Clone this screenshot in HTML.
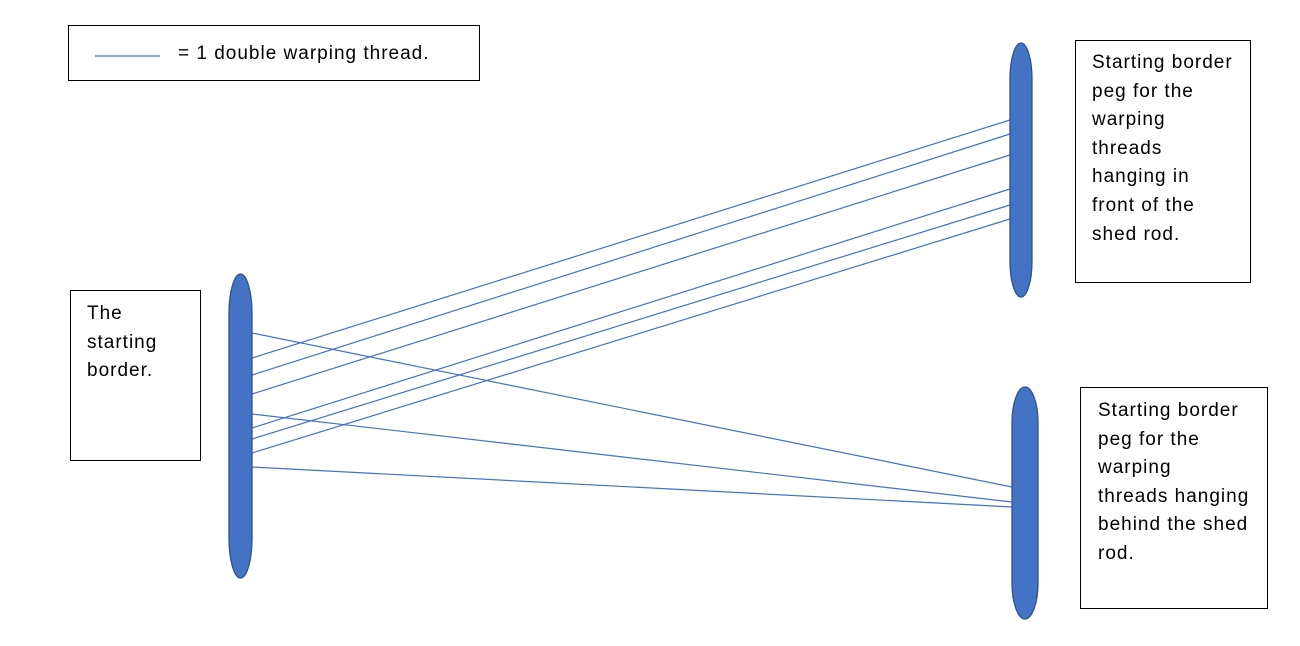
<!DOCTYPE html>
<html><head><style>
body{margin:0;background:#fff;width:1300px;height:646px;overflow:hidden;font-family:"Liberation Sans",sans-serif;}
.b{position:absolute;border:1.3px solid #000;box-sizing:border-box;font-size:19px;letter-spacing:1px;line-height:28.6px;color:#000;white-space:nowrap;}
</style></head><body>
<svg width="1300" height="646" style="position:absolute;left:0;top:0">
<g stroke="#4472c4" stroke-width="1.2" fill="none">
<line x1="95" y1="56" x2="160" y2="56"/>
<line x1="252" y1="333" x2="1012" y2="487"/>
<line x1="252" y1="414" x2="1012" y2="502"/>
<line x1="252" y1="467" x2="1012" y2="507"/>
<line x1="252" y1="358" x2="1010" y2="120"/>
<line x1="252" y1="375" x2="1010" y2="134"/>
<line x1="252" y1="394" x2="1010" y2="155"/>
<line x1="252" y1="428" x2="1010" y2="189"/>
<line x1="252" y1="439" x2="1010" y2="205"/>
<line x1="252" y1="453" x2="1010" y2="219"/>
</g>
<g fill="#4472c4" stroke="#2f528f" stroke-width="1.3">
<rect x="229" y="274" width="23" height="304" rx="11.5" ry="40"/>
<rect x="1010" y="43" width="22" height="254" rx="11" ry="36"/>
<rect x="1012" y="387" width="26" height="232" rx="13" ry="36"/>
</g>
</svg>
<div class="b" style="left:68px;top:25px;width:412px;height:56px;padding:17px 0 0 109px;line-height:22px">= 1 double warping thread.</div>
<div class="b" style="left:70px;top:290px;width:131px;height:171px;padding:9px 0 0 16px">The<br>starting<br>border.</div>
<div class="b" style="left:1075px;top:40px;width:176px;height:243px;padding:8px 0 0 16px">Starting border<br>peg for the<br>warping<br>threads<br>hanging in<br>front of the<br>shed rod.</div>
<div class="b" style="left:1080px;top:387px;width:188px;height:222px;padding:9px 0 0 17px">Starting border<br>peg for the<br>warping<br>threads hanging<br>behind the shed<br>rod.</div>
</body></html>
